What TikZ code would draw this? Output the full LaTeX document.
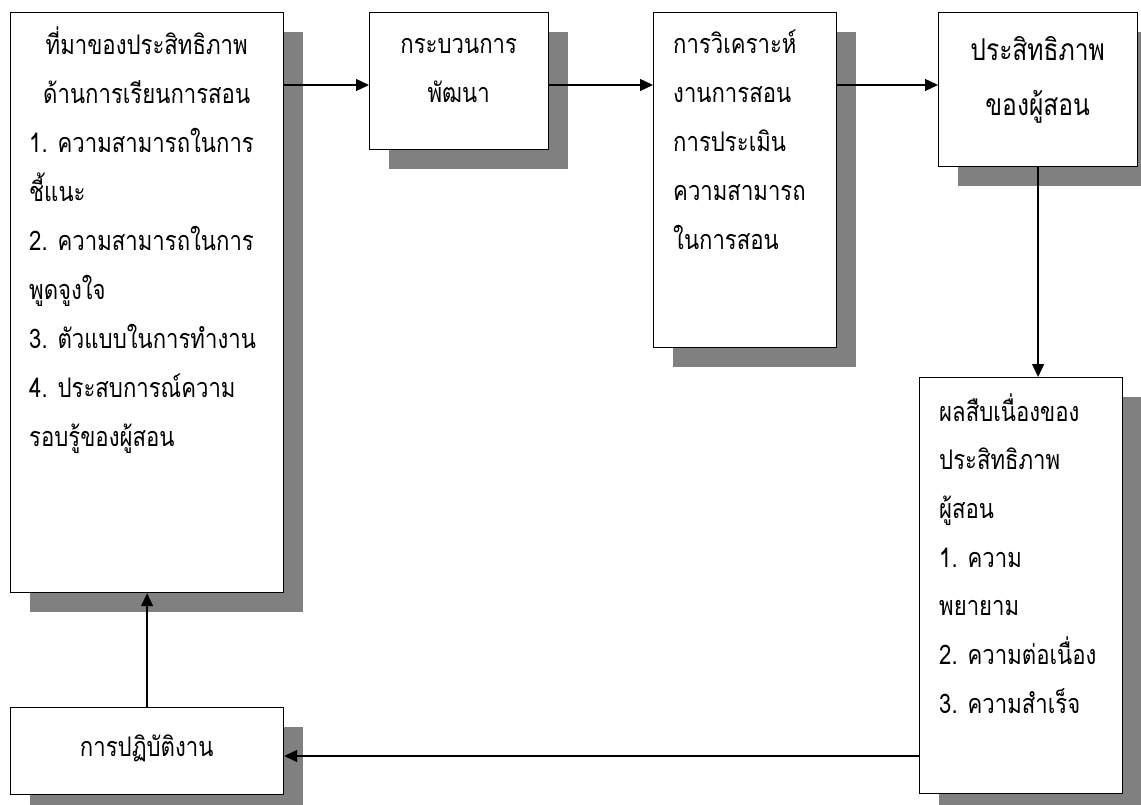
\documentclass[tikz,border=0pt]{standalone}
\usepackage{fontspec}
\newfontfamily\thaifont[Script=Thai,FakeStretch=0.82]{Loma}
\usetikzlibrary{arrows.meta,shadows}
\newcommand\tblock[3]{\vtop{\hsize=#1\baselineskip=#2\lineskiplimit=-100pt\lineskip=0pt #3}}
\newcommand\cen[1]{\hbox to\hsize{\hfil#1\hfil}}
\newcommand\lft[1]{\hbox{#1}}
\begin{document}
\begin{tikzpicture}[x=1pt,y=-1pt,
  box/.style={draw, line width=1.2pt, fill=white, anchor=north west, inner sep=0pt,
    general shadow={fill=gray, shadow xshift=19pt, shadow yshift=-19pt}},
  txt/.style={anchor=base west, inner sep=0pt, font=\thaifont\fontsize{27}{30}\selectfont},
  bigtxt/.style={anchor=base west, inner sep=0pt, font=\thaifont\fontsize{30}{34}\selectfont},
  arr/.style={line width=1.3pt, -{Triangle[length=13pt,width=12pt]}}]
\useasboundingbox (0,0) rectangle (1141,805);
\fill[white] (0,0) rectangle (1141,805);
% boxes
\node[box, minimum width=273pt, minimum height=580pt] (A) at (10,12) {};
\node[box, minimum width=179pt, minimum height=137pt] (B) at (369,12) {};
\node[box, minimum width=183pt, minimum height=335pt] (C) at (653,12) {};
\node[box, minimum width=199pt, minimum height=154pt] (D) at (938,12) {};
\node[box, minimum width=203pt, minimum height=416pt] (E) at (919,377) {};
\node[box, minimum width=273pt, minimum height=87pt] (F) at (10,707) {};
% texts
\node[txt] (At) at (29,55) {\tblock{235pt}{49pt}{%
  \cen{ที่มาของประสิทธิภาพ}\cen{ด้านการเรียนการสอน}%
  \lft{1. ความสามารถในการ}\lft{ชี้แนะ}\lft{2. ความสามารถในการ}\lft{พูดจูงใจ}%
  \lft{3. ตัวแบบในการทำงาน}\lft{4. ประสบการณ์ความ}\lft{รอบรู้ของผู้สอน}}};
\node[txt] (Bt) at (369,54) {\tblock{179pt}{49pt}{\cen{กระบวนการ}\cen{พัฒนา}}};
\node[txt] (Ct) at (673,54) {\tblock{160pt}{49pt}{%
  \lft{การวิเคราะห์}\lft{งานการสอน}\lft{การประเมิน}\lft{ความสามารถ}\lft{ในการสอน}}};
\node[bigtxt] (Dt) at (938,61) {\tblock{199pt}{55pt}{\cen{ประสิทธิภาพ}\cen{ของผู้สอน}}};
\node[txt] (Et) at (939,421) {\tblock{180pt}{48.7pt}{%
  \lft{ผลสืบเนื่องของ}\lft{ประสิทธิภาพ}\lft{ผู้สอน}\lft{1. ความ}\lft{พยายาม}%
  \lft{2. ความต่อเนื่อง}\lft{3. ความสำเร็จ}}};
\node[txt] (Ft) at (10,756) {\tblock{273pt}{49pt}{\cen{การปฏิบัติงาน}}};
% connectors
\coordinate (row) at (0,85);
\coordinate (rowb) at (0,756);
\draw[arr] (A.east |- row) -- (B.west |- row);
\draw[arr] (B.east |- row) -- (C.west |- row);
\draw[arr] (C.east |- row) -- (D.west |- row);
\draw[arr] (D.south) -- (D.south |- E.north);
\draw[arr] (E.west |- rowb) -- (F.east |- rowb);
\draw[arr] (F.north) -- (A.south);
\end{tikzpicture}
\end{document}
